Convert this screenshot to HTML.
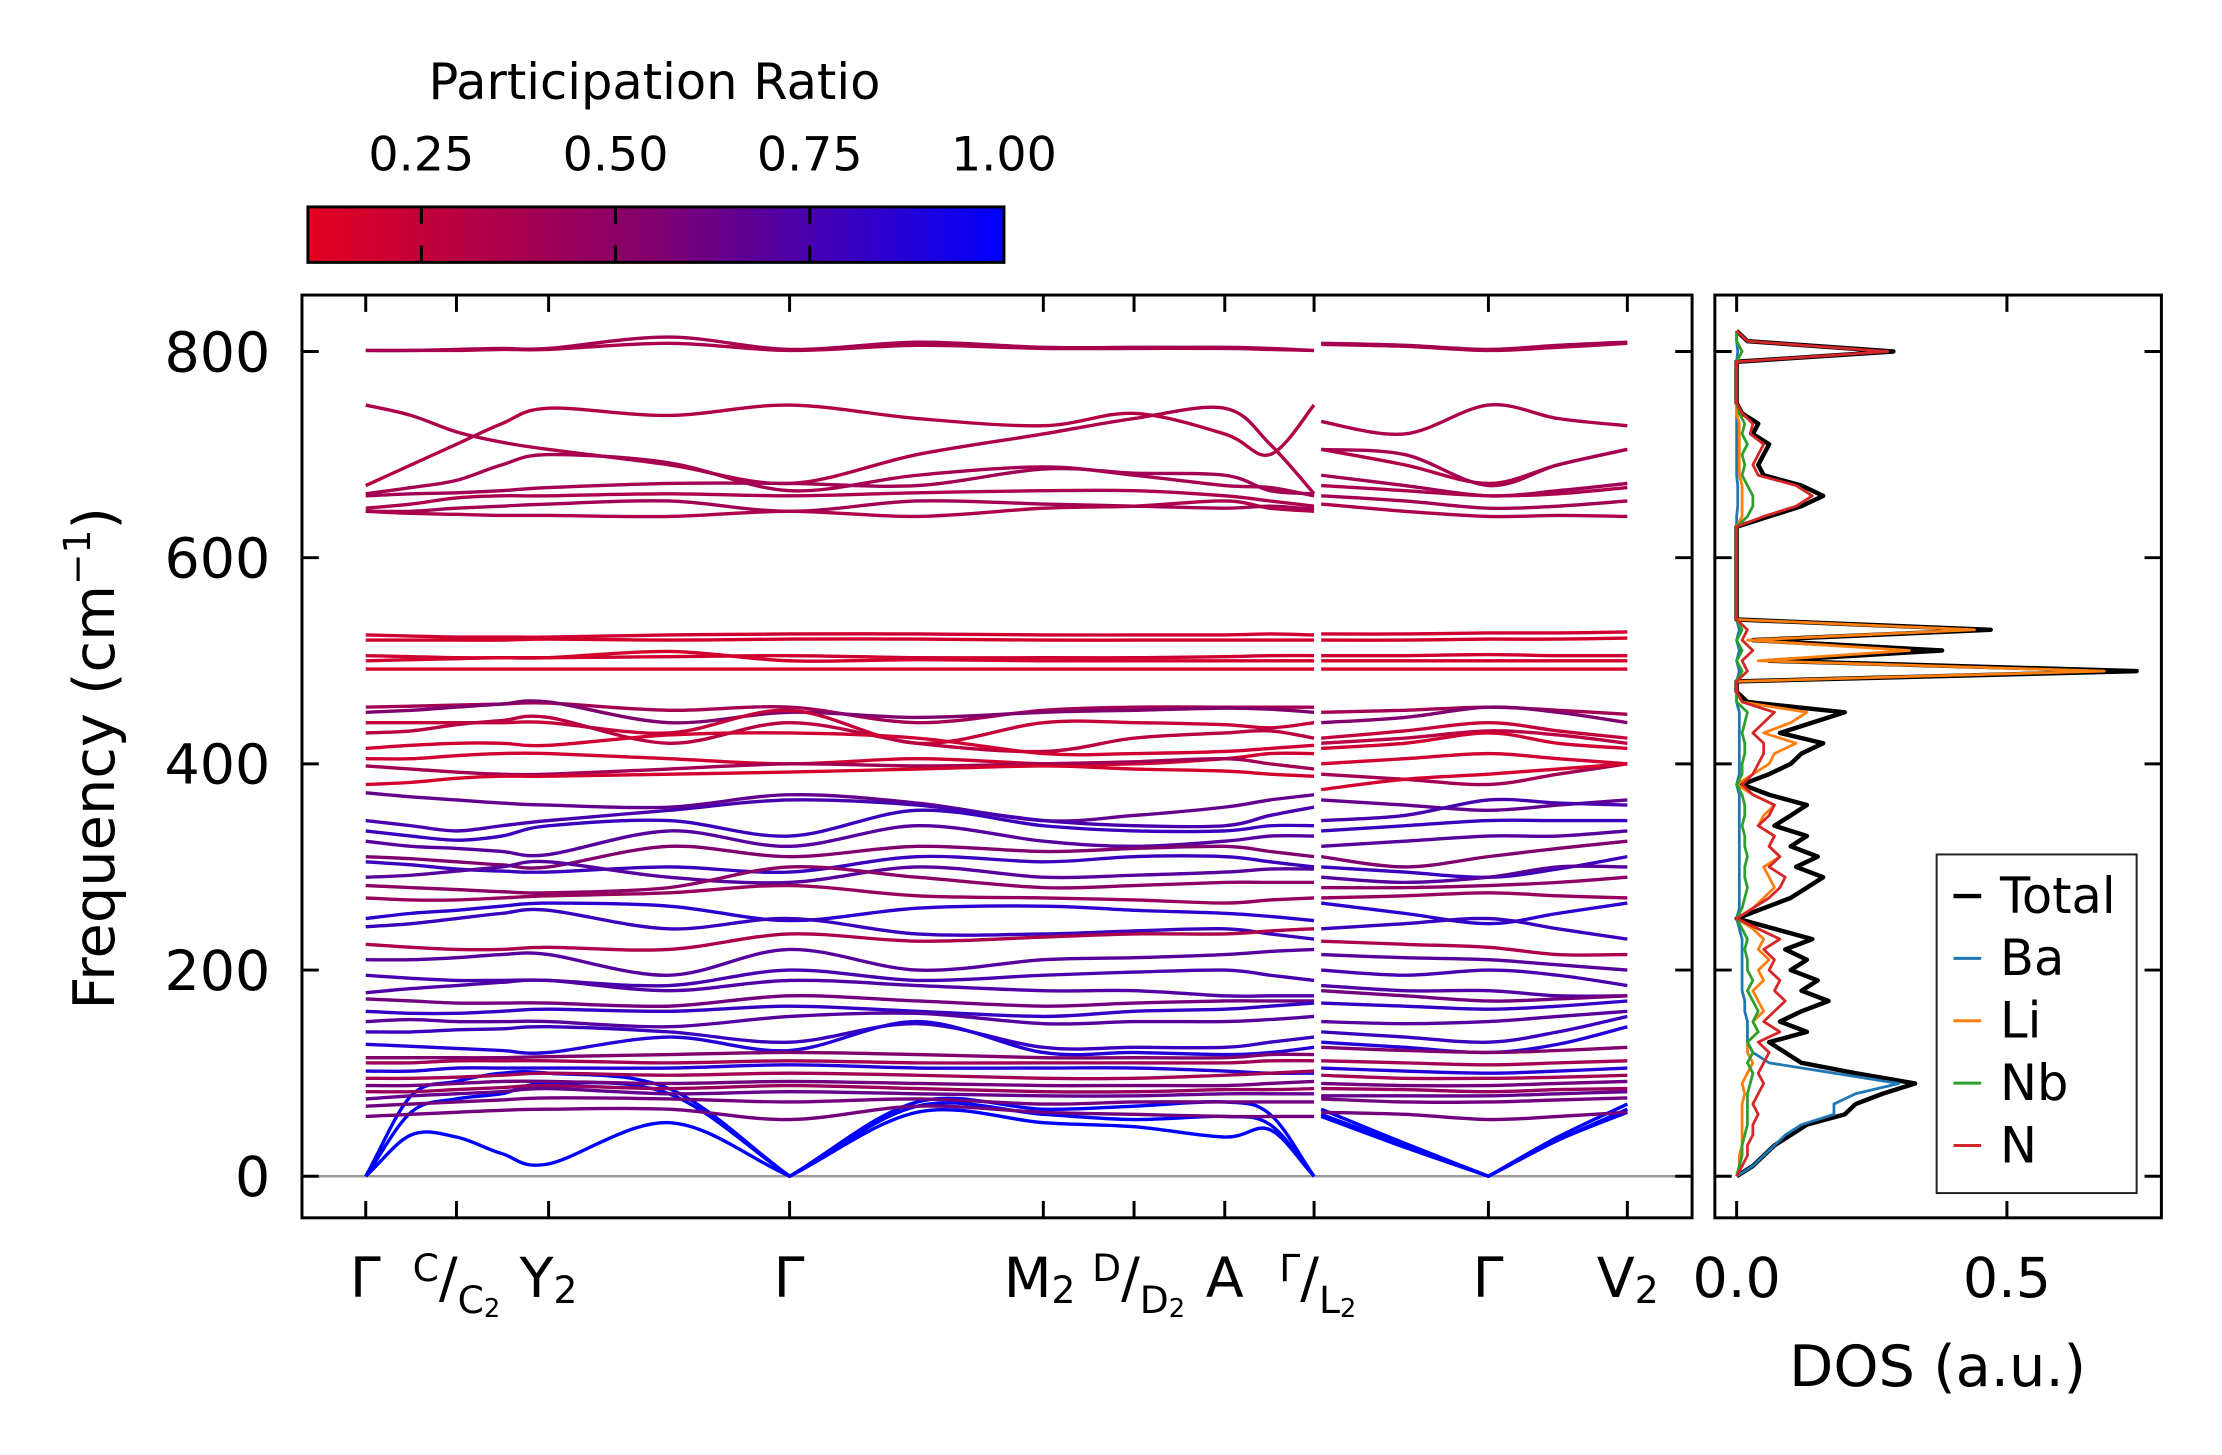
<!DOCTYPE html>
<html><head><meta charset="utf-8"><style>
html,body{margin:0;padding:0;background:#fff;}
svg{display:block;font-family:"DejaVu Sans","Liberation Sans",sans-serif;}
</style></head><body>
<svg id="chart" width="2222" height="1455" viewBox="0 0 2222 1455" xmlns="http://www.w3.org/2000/svg">
<defs>
<linearGradient id="cmap" x1="0" x2="1" y1="0" y2="0">
<stop offset="0" stop-color="rgb(228,0,32)"/><stop offset="0.5" stop-color="rgb(128,0,110)"/><stop offset="1" stop-color="rgb(0,0,255)"/>
</linearGradient>
<clipPath id="mainclip"><rect x="305" y="298" width="1404" height="932"/></clipPath>
<clipPath id="dosclip"><rect x="1732" y="298" width="451" height="932"/></clipPath>
</defs>
<g id="root" transform="scale(0.9901)">
<g>
<text x="661" y="100" font-size="50" text-anchor="middle">Participation Ratio</text>
<rect x="311" y="209" width="703" height="56" fill="url(#cmap)" stroke="#000" stroke-width="3"/>
<g id="cbticks"></g>
</g>
<g id="main"></g>
<g id="dos"></g>
<text transform="translate(115,766) rotate(-90)" font-size="58" text-anchor="middle">Frequency (cm<tspan font-size="38" dy="-24">−1</tspan><tspan dy="24">)</tspan></text>
<text x="1957" y="1400" font-size="58" text-anchor="middle">DOS (a.u.)</text>
</g>
</svg>
<script>
// ---- data ----
const kNodes1 = [0,32,64,96,129,214,299,389,478,542,606,638,669];
const kNodes2 = [674,733,792,841,890];
const kTickPos = [0,64,129,299,478,542,606,669,792,890];
const yTicks = [0,200,400,600,800];
const cbTicks = [0.25,0.50,0.75,1.00];
const cbTickLabels = ["0.25","0.50","0.75","1.00"];
const bandPR = [1,1,1,0.35,0.38,0.35,0.33,0.38,0.4,0.36,0.4,0.35,0.2,0.18,0.2,0.18,0.17,0.4,0.55,0.25,0.3,0.2,0.2,0.4,0.18,
0.65,0.75,0.8,0.7,0.55,0.8,0.7,0.5,0.45,0.85,0.8,0.35,0.7,0.75,0.72,0.6,0.82,0.7,0.8,0.88,0.55,0.4,0.88,0.4,0.6,0.45,0.65,0.6,0.6];
const bands = [
[0,40,38,22,12,52,0,62,52,48,38,45,0, 58,28,0,35,62],
[0,62,75,80,90,80,0,68,60,55,58,50,0, 60,30,0,35,65],
[0,78,92,100,100,85,0,72,65,68,72,60,0, 65,32,0,38,70],
[801,801,801,802,802,808,801,806,803,803,803,802,801, 807,805,801,804,808],
[801,801,802,803,803,814,802,809,804,804,804,803,801, 808,806,802,806,809],
[748,738,722,712,705,690,672,700,720,735,745,710,662, 732,720,748,735,728],
[670,690,710,730,745,738,748,735,728,740,720,700,748, 705,690,672,690,705],
[662,668,675,690,700,692,665,680,688,680,670,668,660, 705,700,670,690,705],
[660,662,663,665,668,672,672,670,686,682,680,665,662, 680,670,660,665,672],
[648,652,658,660,660,662,660,663,665,665,660,655,650, 670,665,660,662,668],
[645,645,648,650,652,655,645,655,652,650,648,650,647, 660,655,648,650,655],
[645,643,642,641,641,640,645,640,648,650,655,648,645, 652,645,640,641,640],
[525,524,523,523,523,525,526,526,525,525,525,526,525, 526,526,527,527,528],
[520,520,520,520,521,520,521,521,520,520,520,520,520, 520,520,521,521,522],
[505,504,503,503,503,504,505,503,503,503,504,505,505, 505,505,506,505,505],
[500,501,502,503,503,509,500,501,500,500,500,500,500, 500,500,500,500,500],
[492,492,492,492,492,492,492,492,492,492,492,492,492, 492,492,492,492,492],
[455,456,457,458,459,452,455,440,452,455,455,455,455, 450,452,455,452,448],
[450,452,455,458,460,440,450,445,450,452,454,453,450, 440,445,455,450,440],
[440,440,440,440,440,430,452,420,440,440,438,435,440, 425,432,440,432,425],
[430,432,438,442,445,420,440,420,412,425,430,432,425, 420,425,432,428,420],
[415,418,420,420,418,428,430,425,410,410,412,415,418, 415,420,430,420,415],
[405,405,408,410,410,405,400,405,400,400,405,410,410, 400,405,410,405,400],
[398,395,392,390,390,395,400,398,400,402,405,400,395, 390,385,380,390,400],
[380,382,386,388,388,390,392,395,398,395,393,390,388, 375,385,390,395,400],
[372,368,365,362,360,358,370,362,345,350,358,365,370, 365,360,355,360,365],
[345,340,335,340,345,355,365,360,345,340,340,350,358, 345,350,365,362,360],
[335,330,326,330,340,345,330,355,340,335,335,340,340, 335,340,345,345,345],
[325,320,318,315,312,335,320,340,325,320,325,330,330, 320,325,330,330,335],
[310,308,305,302,300,320,310,320,315,318,320,315,310, 310,300,310,318,325],
[305,302,298,296,295,300,295,310,305,310,310,305,300, 300,295,290,298,310],
[290,292,296,300,305,290,285,300,290,292,295,298,298, 290,285,290,300,300],
[282,280,278,276,275,280,300,290,280,282,285,285,285, 280,280,282,285,290],
[270,268,268,270,272,275,282,272,270,268,265,268,270, 270,272,275,272,270],
[250,255,258,262,265,262,248,260,262,258,255,252,248, 265,255,245,255,265],
[242,245,250,255,258,240,250,235,235,238,240,235,230, 240,245,250,240,230],
[225,222,220,220,222,220,235,228,232,235,235,238,240, 228,225,222,215,215],
[210,210,212,215,215,195,220,200,210,212,215,218,220, 215,212,210,205,200],
[195,192,190,190,190,185,200,190,195,198,200,195,190, 200,195,200,195,185],
[178,182,185,188,190,180,190,185,180,180,175,175,175, 185,180,180,175,175],
[172,170,168,168,168,165,175,170,165,168,170,170,170, 180,175,170,172,175],
[160,158,158,160,162,160,165,160,155,160,162,165,168, 168,165,162,165,170],
[150,152,150,150,150,145,155,158,148,150,150,152,155, 150,148,150,155,160],
[140,140,142,143,145,140,130,148,125,125,125,130,135, 140,135,130,140,155],
[128,126,124,122,120,135,122,150,120,120,118,120,125, 130,125,120,128,145],
[115,115,115,115,116,118,120,118,115,115,115,118,118, 125,122,120,122,125],
[110,110,112,112,112,110,112,110,110,110,110,112,112, 112,110,108,110,112],
[102,102,105,105,105,105,108,105,105,105,102,100,100, 105,102,100,102,105],
[95,95,96,98,100,98,100,98,95,95,98,100,102, 98,95,95,96,98],
[88,88,90,92,92,90,92,90,88,88,88,90,92, 90,88,88,90,92],
[82,82,84,86,88,85,88,85,82,82,84,84,85, 85,84,82,84,85],
[75,78,80,82,85,80,82,80,78,78,80,80,80, 78,78,78,80,82],
[68,70,72,74,76,75,72,75,70,72,72,72,72, 75,72,72,74,76],
[58,60,62,64,65,65,55,68,62,60,58,58,58, 62,60,55,58,62]
];
const dosFreq = [0,10,20,30,40,50,60,70,80,90,100,110,120,130,140,150,160,170,180,190,200,210,220,230,240,250,260,270,280,290,300,310,320,330,340,350,360,370,380,390,400,410,420,430,440,450,460,470,480,490,500,510,520,530,540,550,560,570,580,590,600,610,620,630,640,650,660,670,680,690,700,710,720,730,740,750,760,770,780,790,800,810,820];
const dosTotal = [0,0.03,0.05,0.07,0.1,0.13,0.2,0.22,0.27,0.33,0.22,0.12,0.09,0.06,0.13,0.08,0.12,0.17,0.12,0.15,0.1,0.13,0.09,0.14,0.07,0,0.05,0.1,0.13,0.16,0.11,0.15,0.1,0.13,0.07,0.1,0.13,0.06,0.01,0.06,0.1,0.12,0.16,0.08,0.14,0.2,0.02,0,0,0.74,0.06,0.38,0.03,0.47,0,0,0,0,0,0,0,0,0,0,0.06,0.12,0.16,0.12,0.05,0.04,0.05,0.06,0.03,0.04,0.01,0,0,0,0,0,0.29,0.02,0];
const dosBa = [0,0.03,0.05,0.07,0.09,0.12,0.18,0.18,0.22,0.3,0.18,0.06,0.03,0.02,0.02,0.02,0.015,0.015,0.01,0.01,0.01,0.01,0.01,0.01,0.005,0,0.005,0.005,0.005,0.005,0.005,0.005,0.005,0.005,0.005,0.005,0.005,0.005,0,0.005,0.005,0.005,0.005,0.005,0.005,0.005,0,0,0,0.005,0,0.005,0,0.005,0,0,0,0,0,0,0,0,0,0,0,0.002,0.002,0.002,0,0,0,0,0,0,0,0,0,0,0,0,0.002,0,0];
const dosLi = [0,0.005,0.005,0.01,0.01,0.01,0.01,0.01,0.015,0.01,0.02,0.03,0.02,0.02,0.04,0.03,0.05,0.04,0.03,0.05,0.04,0.06,0.04,0.05,0.03,0,0.03,0.05,0.07,0.06,0.05,0.08,0.06,0.07,0.04,0.05,0.07,0.03,0,0.03,0.06,0.07,0.11,0.05,0.1,0.13,0.01,0,0,0.68,0.04,0.32,0.02,0.44,0,0,0,0,0,0,0,0,0,0,0.01,0.01,0.01,0.01,0.005,0.005,0.005,0.005,0.005,0.005,0,0,0,0,0,0,0.01,0,0];
const dosNb = [0,0.005,0.01,0.01,0.015,0.02,0.02,0.02,0.02,0.025,0.03,0.02,0.03,0.02,0.04,0.03,0.04,0.03,0.02,0.03,0.02,0.02,0.015,0.02,0.01,0,0.01,0.015,0.02,0.015,0.015,0.02,0.015,0.015,0.01,0.015,0.015,0.01,0,0.01,0.01,0.015,0.015,0.01,0.015,0.02,0,0,0,0.01,0,0.01,0,0.01,0,0,0,0,0,0,0,0,0,0,0.02,0.03,0.03,0.02,0.01,0.015,0.01,0.02,0.01,0.015,0.005,0,0,0,0,0,0.01,0,0];
const dosN = [0,0.01,0.02,0.02,0.03,0.03,0.04,0.03,0.04,0.05,0.04,0.05,0.06,0.04,0.08,0.05,0.07,0.09,0.07,0.08,0.06,0.07,0.05,0.08,0.04,0,0.03,0.06,0.08,0.09,0.06,0.08,0.06,0.07,0.04,0.06,0.07,0.03,0.01,0.03,0.04,0.05,0.05,0.03,0.05,0.07,0.01,0,0,0.02,0.01,0.03,0.01,0.02,0,0,0,0,0,0,0,0,0,0,0.05,0.11,0.14,0.11,0.04,0.03,0.04,0.05,0.025,0.03,0.01,0,0,0,0,0,0.28,0.02,0];

// ---- axes ----
const NS="http://www.w3.org/2000/svg";
const fy = f => 1188 - f*1.04125;
const kx = k => 369.4 + k*1.4317;
const dx = v => 1754 + v*546;
const cbx = v => 311 + (v-0.104)/(0.896)*703;
const ZERO_Y = fy(0);
function mk(tag, attrs, parent){const e=document.createElementNS(NS,tag);for(const a in attrs)e.setAttribute(a,attrs[a]);parent.appendChild(e);return e;}
function cmap(p){let t=Math.max(0,Math.min(1,(p-0.104)/0.896));let a,b,u;
 if(t<0.5){a=[228,0,32];b=[128,0,110];u=t/0.5;}else{a=[128,0,110];b=[0,0,255];u=(t-0.5)/0.5;}
 return `rgb(${Math.round(a[0]+(b[0]-a[0])*u)},${Math.round(a[1]+(b[1]-a[1])*u)},${Math.round(a[2]+(b[2]-a[2])*u)})`;}
function smooth(pts){let d=`M${pts[0][0].toFixed(1)},${pts[0][1].toFixed(1)}`;
 for(let i=0;i<pts.length-1;i++){const p0=pts[Math.max(0,i-1)],p1=pts[i],p2=pts[i+1],p3=pts[Math.min(pts.length-1,i+2)];
  let c1=[p1[0]+(p2[0]-p0[0])/6,p1[1]+(p2[1]-p0[1])/6],c2=[p2[0]-(p3[0]-p1[0])/6,p2[1]-(p3[1]-p1[1])/6];
  if(Math.abs(p1[1]-ZERO_Y)<0.5) c1=[p1[0]+(p2[0]-p1[0])/3,p1[1]+(p2[1]-p1[1])/3];
  if(Math.abs(p2[1]-ZERO_Y)<0.5) c2=[p2[0]-(p2[0]-p1[0])/3,p2[1]-(p2[1]-p1[1])/3];
  d+=`C${c1[0].toFixed(1)},${c1[1].toFixed(1)} ${c2[0].toFixed(1)},${c2[1].toFixed(1)} ${p2[0].toFixed(1)},${p2[1].toFixed(1)}`;}
 return d;}

// colorbar ticks
const cbg=document.getElementById('cbticks');
cbTicks.forEach((v,i)=>{const x=cbx(v);
 if(v<1){
 const t1=mk('line',{x1:x,x2:x,y1:209,y2:226,stroke:'#000','stroke-width':3},cbg);
 
 
 const t2=mk('line',{x1:x,x2:x,y1:248,y2:265,stroke:'#000','stroke-width':3},cbg);
 
 }
 const tl=mk('text',{x:x,y:172,'font-size':48,'text-anchor':'middle'},cbg);tl.textContent=cbTickLabels[i];
 
 
});

// main panel
const main=document.getElementById('main');
const zl=mk('line',{x1:305,x2:1709,y1:ZERO_Y,y2:ZERO_Y,stroke:'#999','stroke-width':2.5},main);


const bg=mk('g',{'clip-path':'url(#mainclip)'},main);


bands.forEach((b,i)=>{const col=cmap(bandPR[i]);
 const p1=kNodes1.map((k,j)=>[kx(k),fy(b[j])]);
 const p2=kNodes2.map((k,j)=>[kx(k),fy(b[kNodes1.length+j])]);
 [p1,p2].forEach(p=>{const path=mk('path',{d:smooth(p),fill:'none',stroke:col,'stroke-width':3.4},bg);
  
  });
});
const fr=mk('rect',{x:305,y:298,width:1404,height:932,fill:'none',stroke:'#000','stroke-width':3},main);


yTicks.forEach(v=>{const y=fy(v);
 const a=mk('line',{x1:305,x2:322,y1:y,y2:y,stroke:'#000','stroke-width':3},main);
 
 
 const b=mk('line',{x1:1692,x2:1709,y1:y,y2:y,stroke:'#000','stroke-width':3},main);
 
 
 const t=mk('text',{x:273,y:y+20,'font-size':56,'text-anchor':'end'},main);t.textContent=v;
 
 
 const c=mk('line',{x1:1732,x2:1749,y1:y,y2:y,stroke:'#000','stroke-width':3},main);
 
 
 const d=mk('line',{x1:2166,x2:2183,y1:y,y2:y,stroke:'#000','stroke-width':3},main);
 
 
});
kTickPos.forEach(k=>{const x=kx(k);
 const a=mk('line',{x1:x,x2:x,y1:298,y2:315,stroke:'#000','stroke-width':3},main);
 
 
 const b=mk('line',{x1:x,x2:x,y1:1213,y2:1230,stroke:'#000','stroke-width':3},main);
 
 
});
const xl=mk('g',{'font-size':56},main);


xl.innerHTML=`
<text x="369" y="1310" text-anchor="middle">Γ</text>
<text x="461" y="1310" text-anchor="middle"><tspan font-size="38" dy="-16">C</tspan><tspan dy="16">/</tspan><tspan font-size="38" dy="16">C</tspan><tspan font-size="26" dy="4">2</tspan></text>
<text x="554" y="1310" text-anchor="middle">Y<tspan font-size="38" dy="6">2</tspan></text>
<text x="797" y="1310" text-anchor="middle">Γ</text>
<text x="1050" y="1310" text-anchor="middle">M<tspan font-size="38" dy="6">2</tspan></text>
<text x="1150" y="1310" text-anchor="middle"><tspan font-size="38" dy="-16">D</tspan><tspan dy="16">/</tspan><tspan font-size="38" dy="16">D</tspan><tspan font-size="26" dy="4">2</tspan></text>
<text x="1237" y="1310" text-anchor="middle">A</text>
<text x="1331" y="1310" text-anchor="middle"><tspan font-size="38" dy="-16">Γ</tspan><tspan dy="16">/</tspan><tspan font-size="38" dy="16">L</tspan><tspan font-size="26" dy="4">2</tspan></text>
<text x="1503" y="1310" text-anchor="middle">Γ</text>
<text x="1644" y="1310" text-anchor="middle">V<tspan font-size="38" dy="6">2</tspan></text>`;

// DOS panel
const dos=document.getElementById('dos');
const dg=mk('g',{'clip-path':'url(#dosclip)'},dos);
const series=[[dosTotal,'#000',4.5,'dos-total'],[dosBa,'#1f77b4',2.8,'dos-ba'],[dosLi,'#ff7f0e',2.8,'dos-li'],[dosNb,'#2ca02c',2.8,'dos-nb'],[dosN,'#d62728',2.8,'dos-n']];
series.forEach(s=>{const pts=dosFreq.map((f,i)=>`${dx(s[0][i]).toFixed(1)},${fy(f).toFixed(1)}`).join(' ');
 const pl=mk('polyline',{points:pts,fill:'none',stroke:s[1],'stroke-width':s[2],'stroke-linejoin':'round'},dg);
 
 });
const df=mk('rect',{x:1732,y:298,width:451,height:932,fill:'none',stroke:'#000','stroke-width':3},dos);


[0,0.5].forEach(v=>{const x=dx(v);
 const a=mk('line',{x1:x,x2:x,y1:298,y2:315,stroke:'#000','stroke-width':3},dos);
 
 
 const b=mk('line',{x1:x,x2:x,y1:1213,y2:1230,stroke:'#000','stroke-width':3},dos);
 
 
 const t=mk('text',{x:x,y:1310,'font-size':56,'text-anchor':'middle'},dos);t.textContent=v.toFixed(1);
 
 
});
// legend
const lg=mk('g',{},dos);


const lb=mk('rect',{x:1956,y:863,width:202,height:342,fill:'#fff',stroke:'#222','stroke-width':2},lg);


const legNames=['Total','Ba','Li','Nb','N'];
const legY=[905,968,1031,1094,1157];
series.forEach((s,i)=>{
 const l=mk('line',{x1:1973,x2:2001,y1:legY[i],y2:legY[i],stroke:s[1],'stroke-width':i==0?4.5:3},lg);
 
 
 const t=mk('text',{x:2020,y:legY[i]+17,'font-size':50},lg);t.textContent=legNames[i];
 
 
});
</script>
</body></html>
